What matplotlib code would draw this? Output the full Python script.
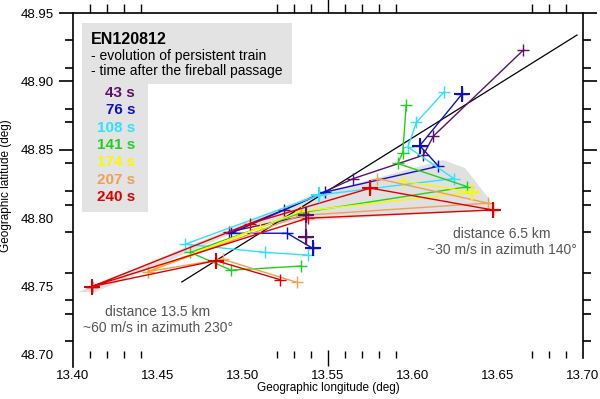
import matplotlib
matplotlib.use("Agg")
import matplotlib.pyplot as plt
from matplotlib.patches import Polygon
from matplotlib.ticker import FixedLocator

plt.rcParams['font.family'] = ['Liberation Sans', 'DejaVu Sans']

# train positions (lon, lat) for each time after the fireball passage
times = ['43 s', '76 s', '108 s', '141 s', '174 s', '207 s', '240 s']
colors = ['#5a1068', '#1010c0', '#30e0ff', '#20d020', '#f8f800', '#f0a050', '#e00000']

lon_43 = [13.665, 13.612, 13.606, 13.565, 13.524, 13.492, 13.537, 13.537]
lat_43 = [48.923, 48.860, 48.846, 48.829, 48.806, 48.790, 48.802, 48.786]
lon_76 = [13.629, 13.604, 13.615, 13.548, 13.493, 13.526, 13.541]
lat_76 = [48.891, 48.853, 48.838, 48.819, 48.789, 48.789, 48.778]
lon_108 = [13.618, 13.602, 13.597, 13.624, 13.545, 13.466, 13.513, 13.538]
lat_108 = [48.892, 48.870, 48.852, 48.829, 48.817, 48.781, 48.775, 48.773]
lon_141 = [13.596, 13.594, 13.591, 13.632, 13.534, 13.469, 13.493, 13.534]
lat_141 = [48.883, 48.848, 48.840, 48.823, 48.804, 48.775, 48.762, 48.765]
lon_174 = [13.594, 13.635, 13.534, 13.444, 13.510]
lat_174 = [48.827, 48.819, 48.805, 48.761, 48.793]
lon_207 = [13.579, 13.644, 13.534, 13.444, 13.488, 13.532]
lat_207 = [48.829, 48.811, 48.802, 48.761, 48.770, 48.753]
lon_240 = [13.411, 13.504, 13.575, 13.647, 13.538, 13.411, 13.484, 13.522]
lat_240 = [48.750, 48.796, 48.822, 48.806, 48.800, 48.750, 48.769, 48.755]

series_lon = [lon_43, lon_76, lon_108, lon_141, lon_174, lon_207, lon_240]
series_lat = [lat_43, lat_76, lat_108, lat_141, lat_174, lat_207, lat_240]

# fitted trajectory line
traj_lon = [13.464, 13.6965]
traj_lat = [48.7534, 48.9339]

# grey area covered by the train
area_lon = [13.4029, 13.5394, 13.6176, 13.6306, 13.6453, 13.6471, 13.5376, 13.5041, 13.4129]
area_lat = [48.746, 48.8162, 48.8425, 48.8367, 48.8133, 48.806, 48.798, 48.7943, 48.746]

# which points were drawn with the bigger cross (series index, point index)
big_marks = [(0, 6), (0, 7), (1, 0), (1, 1), (1, 6), (2, 4), (4, 1), (6, 0), (6, 2), (6, 3), (6, 6)]

fig = plt.figure(figsize=(6.0, 3.99), dpi=100)
ax = fig.add_axes([73 / 600, 1 - 358 / 399, 510 / 600, 345 / 399])

ax.fill(area_lon, area_lat, color='#e0e0e0', lw=0, zorder=1)
ax.plot(traj_lon, traj_lat, color='black', lw=0.9, zorder=3)

for lon, lat, c in zip(series_lon, series_lat, colors):
    ax.plot(lon, lat, color=c, lw=1.0, marker='+', ms=9, mew=1.0, zorder=4)
for s, p in big_marks:
    ax.plot(series_lon[s][p], series_lat[s][p], marker='+', ms=12, mew=1.5,
            color=colors[s], zorder=5)

ax.set_xlim(13.40, 13.70)
ax.set_ylim(48.6978, 48.95)

# axes frame: no bottom line, left line a bit longer
ax.spines['bottom'].set_visible(False)
ax.spines['left'].set_visible(False)
ax.plot([0, 0], [-0.025, 1], transform=ax.transAxes, color='black', lw=1.2, clip_on=False)
for s in ['top', 'right']:
    ax.spines[s].set_linewidth(1.2)

ax.set_xticks([13.40, 13.45, 13.50, 13.55, 13.60, 13.65, 13.70])
ax.set_xticklabels(['13.40', '13.45', '13.50', '13.55', '13.60', '13.65', '13.70'])
ax.set_yticks([48.70, 48.75, 48.80, 48.85, 48.90, 48.95])
ax.set_yticklabels(['48.70', '48.75', '48.80', '48.85', '48.90', '48.95'])
ax.xaxis.set_minor_locator(FixedLocator([13.41, 13.42, 13.43, 13.44, 13.52, 13.53, 13.54,
                                         13.56, 13.57, 13.58, 13.59, 13.67, 13.68, 13.69]))
ax.yaxis.set_minor_locator(FixedLocator([48.71, 48.73, 48.74, 48.76, 48.79, 48.81, 48.82,
                                         48.84, 48.87, 48.88, 48.91, 48.93]))

ax.tick_params(axis='x', which='major', direction='inout', length=11, width=1,
               top=False, bottom=True, labelsize=9.5, pad=3)
ax.tick_params(axis='x', which='minor', direction='in', length=5, width=1, top=False, bottom=True)
ax.tick_params(axis='y', which='major', direction='out', length=10, width=1.2,
               left=True, right=True, labelsize=9.5, pad=4)
ax.tick_params(axis='y', which='minor', direction='out', length=6, width=1.2, left=True, right=True)

for t in ax.xaxis.get_major_ticks():
    t.tick1line.set_visible(False)
ax.xaxis.get_major_ticks()[3].tick1line.set_visible(True)
for i, t in enumerate(ax.yaxis.get_major_ticks()):
    if i < 3:
        t.tick1line.set_visible(False)
        t.tick2line.set_visible(False)

# ticks on top pointing outward
top = ax.secondary_xaxis('top')
top.spines['top'].set_visible(False)
top.set_xticks([13.55])
top.set_xticklabels([])
top.xaxis.set_minor_locator(FixedLocator([13.41, 13.42, 13.43, 13.44, 13.52, 13.53, 13.54,
                                          13.56, 13.57, 13.58, 13.59, 13.67, 13.68, 13.69]))
top.tick_params(which='major', direction='out', length=12, width=1)
top.tick_params(which='minor', direction='out', length=6.5, width=1)

ax.set_xlabel('Geographic longitude (deg)', fontsize=8.5, labelpad=0)
ax.set_ylabel('Geographic latitude (deg)', fontsize=8.5, labelpad=6)

# legend box
box = [(82, 23), (292, 23), (292, 84), (148, 84), (148, 212), (82, 212)]
fig.patches.append(Polygon([(x / 600, 1 - y / 399) for x, y in box], closed=True,
                           transform=fig.transFigure, facecolor='#e3e3e3', lw=0, zorder=0))
fig.text(91 / 600, 1 - 39 / 399, 'EN120812', fontsize=11.5, fontweight='bold', va='center')
fig.text(91 / 600, 1 - 56 / 399, '- evolution of persistent train', fontsize=10, va='center')
fig.text(91 / 600, 1 - 71 / 399, '- time after the fireball passage', fontsize=10, va='center')
for i, (lab, c) in enumerate(zip(times, colors)):
    fig.text(135 / 600, 1 - (93 + 17.3 * i) / 399, lab, color=c, fontsize=11,
             fontweight='bold', ha='right', va='center')

ax.text(13.450, 48.7256, 'distance 13.5 km\n~60 m/s in azimuth 230°', color='#555555',
        fontsize=10, ha='center', va='center', linespacing=1.1)
ax.text(13.6524, 48.7826, 'distance 6.5 km\n~30 m/s in azimuth 140°', color='#555555',
        fontsize=10, ha='center', va='center', linespacing=1.1)

fig.savefig('out.png', dpi=100)
